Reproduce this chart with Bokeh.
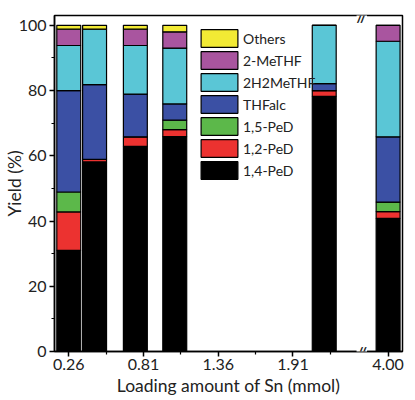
from bokeh.plotting import figure
from bokeh.models import Range1d, FixedTicker, Legend, LegendItem, Label
from bokeh.embed import file_html
from bokeh.resources import INLINE

# ---- data ----
loading = [0.26, 0.45, 0.75, 1.04, 2.14, 4.00]
PeD14 = [31.0, 58.1, 62.9, 65.9, 78.2, 40.8]
PeD12 = [11.8, 0.8, 2.9, 2.1, 1.8, 2.1]
PeD15 = [6.1, 0.0, 0.0, 2.9, 0.0, 2.9]
THFalc = [31.1, 22.9, 13.1, 5.0, 2.1, 20.0]
H2MeTHF = [13.8, 17.0, 14.9, 17.1, 17.9, 29.3]
MeTHF = [5.0, 0.0, 5.0, 5.0, 0.0, 4.9]
Others = [1.2, 1.2, 1.2, 2.0, 0.0, 0.0]

series_names = ["1,4-PeD", "1,2-PeD", "1,5-PeD", "THFalc", "2H2MeTHF", "2-MeTHF", "Others"]
series_vals = [PeD14, PeD12, PeD15, THFalc, H2MeTHF, MeTHF, Others]
colors = ["#000000", "#ec3230", "#5cb84a", "#3b50a4", "#5ac6d6", "#a9559f", "#f2ea34"]

tick_values = [0.26, 0.81, 1.36, 1.91, 4.00]
tick_labels = ["0.26", "0.81", "1.36", "1.91", "4.00"]
minor_values = [0.535, 1.085, 1.635, 2.185]
y_ticks = [0, 20, 40, 60, 80, 100]
y_minor = [10, 30, 50, 70, 90]

# broken x axis: values beyond the break are shifted left
BREAK_AT = 3.0
BREAK_SHIFT = 1.39
BREAK_X = 2.41

def tx(v):
    return round(v - BREAK_SHIFT, 4) if v > BREAK_AT else v

FONT = "Lato"
TXT = "#222222"
X0, X1 = 0.155, 2.716
Y0, Y1 = 0, 103
FW = 349  # frame width = 406 - 53 - 4

p = figure(width=406, height=398, output_backend="svg", toolbar_location=None,
           x_range=Range1d(X0, X1), y_range=Range1d(Y0, Y1),
           min_border_left=53, min_border_right=4, min_border_top=15, min_border_bottom=47,
           x_axis_label="Loading amount of Sn (mmol)", y_axis_label="Yield (%)")
p.grid.visible = False
p.outline_line_color = "black"
p.outline_line_width = 1.5
p.outline_line_alpha = 1.0
p.background_fill_color = "white"

data = {"x": [tx(v) for v in loading]}
for n, v in zip(series_names, series_vals):
    data[n] = v
rs = p.vbar_stack(series_names, x="x", width=0.176, source=data, color=colors,
                  line_color="black", line_width=1.2)

# axes styling
xa = p.xaxis[0]
xa.ticker = FixedTicker(ticks=[tx(v) for v in tick_values], minor_ticks=minor_values)
xa.major_label_overrides = {tx(v): l for v, l in zip(tick_values, tick_labels)}
ya = p.yaxis[0]
ya.ticker = FixedTicker(ticks=y_ticks, minor_ticks=y_minor)

for ax in (xa, ya):
    ax.axis_line_width = 1.5
    ax.major_tick_line_width = 1.5
    ax.minor_tick_line_width = 1.2
    ax.major_tick_in = 0
    ax.major_tick_out = 5
    ax.minor_tick_in = 0
    ax.minor_tick_out = 3
    ax.major_label_text_font = FONT
    ax.major_label_text_font_size = "16px"
    ax.major_label_text_color = TXT
    ax.axis_label_text_font = FONT
    ax.axis_label_text_font_size = "17.5px"
    ax.axis_label_text_font_style = "normal"
    ax.axis_label_text_color = TXT
xa.major_label_standoff = 2
xa.axis_label_standoff = 2
ya.major_label_standoff = 3
ya.axis_label_standoff = -9

# break marks (screen x relative to frame)
bx = (BREAK_X - X0) / (X1 - X0) * FW
for yb in (Y0, Y1):
    p.add_layout(Label(x=bx, y=yb, x_units="screen", y_units="data", text="//",
                       text_align="center", text_baseline="middle",
                       text_font=FONT, text_font_size="15px", text_color=TXT,
                       text_font_style="bold",
                       background_fill_color="white", padding=0))

items = [LegendItem(label=n, renderers=[r]) for n, r in zip(series_names, rs)][::-1]
legend = Legend(items=items, location=(142, 170), border_line_color=None,
                background_fill_alpha=0, padding=0, margin=0,
                glyph_width=46, glyph_height=22, label_height=22, spacing=0,
                label_standoff=1, label_text_font=FONT, label_text_font_size="14px",
                label_text_color=TXT)
p.add_layout(legend)

open("out.html", "w").write(file_html(p, INLINE))
